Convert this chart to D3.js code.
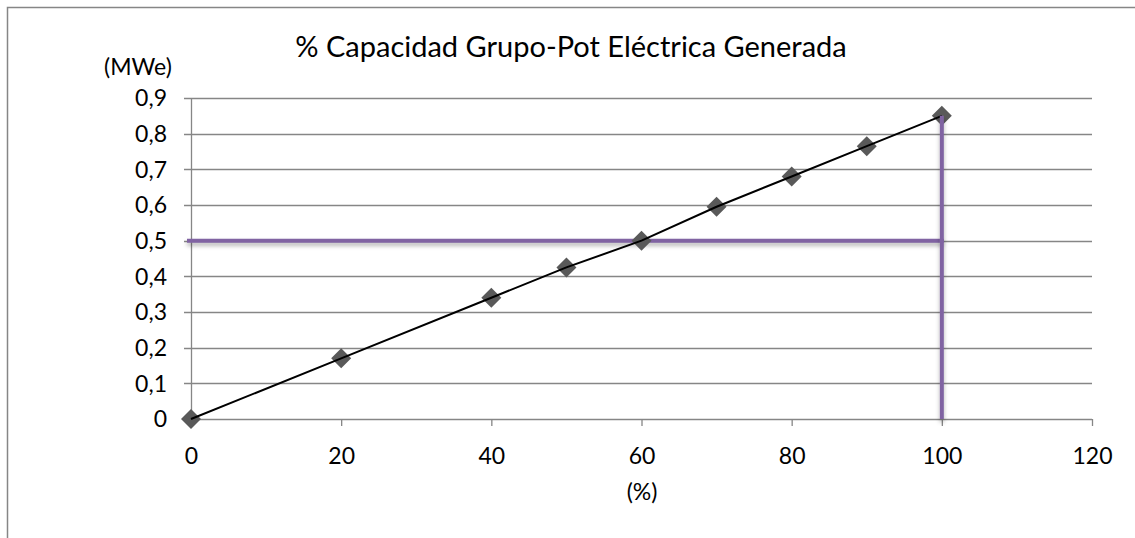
<!DOCTYPE html>
<html>
<head>
<meta charset="utf-8">
<script src="https://cdn.jsdelivr.net/npm/d3@7"></script>
<style>
  body { margin: 0; background: #fff; }
  text { font-family: Lato, "Open Sans", sans-serif; fill: #000; }
</style>
</head>
<body>
<div id="chart"></div>
<script>
// Datos del gráfico
const capacidad = [0, 20, 40, 50, 60, 70, 80, 90, 100];
const potencia = [0, 0.17, 0.34, 0.425, 0.5, 0.595, 0.68, 0.765, 0.85];
const xTicks = [0, 20, 40, 60, 80, 100, 120];
const yTicks = [0, 0.1, 0.2, 0.3, 0.4, 0.5, 0.6, 0.7, 0.8, 0.9];
const refPotencia = 0.5;
const refCapacidad = 100;

const W = 1135, H = 538;
const margin = { top: 98, right: 43, bottom: 119, left: 191 };
const width = W - margin.left - margin.right;
const height = H - margin.top - margin.bottom;

const root = d3.select('#chart').append('svg')
  .attr('width', W)
  .attr('height', H);

// Sombra para las líneas moradas (en coordenadas de usuario: las líneas no tienen alto)
const defs = root.append('defs');
const f = defs.append('filter').attr('id', 'sombra')
  .attr('filterUnits', 'userSpaceOnUse')
  .attr('x', -margin.left).attr('y', -margin.top)
  .attr('width', W).attr('height', H);
f.append('feDropShadow')
  .attr('dx', 0).attr('dy', 3).attr('stdDeviation', 2)
  .attr('flood-color', '#000').attr('flood-opacity', 0.3);

// Marco exterior
root.append('path')
  .attr('d', `M7.5,${H} V7.5 H${W}`)
  .attr('fill', 'none')
  .attr('stroke', '#868686')
  .attr('stroke-width', 1.5);

const svg = root.append('g')
  .attr('transform', `translate(${margin.left},${margin.top})`);

const x = d3.scaleLinear().domain([0, 120]).range([0, width]);
const y = d3.scaleLinear().domain([0, 0.9]).range([height, 0]);

// Líneas de cuadrícula horizontales
svg.append('g')
  .selectAll('line')
  .data(yTicks)
  .enter()
  .append('line')
  .attr('x1', -7)
  .attr('x2', width)
  .attr('y1', d => Math.round(y(d)) + 0.5)
  .attr('y2', d => Math.round(y(d)) + 0.5)
  .attr('stroke', '#868686')
  .attr('stroke-width', 1.3);

// Eje Y
svg.append('line')
  .attr('x1', 0.5).attr('x2', 0.5)
  .attr('y1', 0).attr('y2', height)
  .attr('stroke', '#868686')
  .attr('stroke-width', 1.3);

svg.append('g')
  .selectAll('text')
  .data(yTicks)
  .enter()
  .append('text')
  .attr('x', -24)
  .attr('y', d => y(d))
  .attr('dy', '0.36em')
  .attr('text-anchor', 'end')
  .style('font-size', '23px')
  .text(d => d3.format('.1~f')(d).replace('.', ','));

// Eje X
const xAxis = svg.append('g')
  .attr('transform', `translate(0,${height})`)
  .call(d3.axisBottom(x).tickValues(xTicks).tickSize(7).tickPadding(22).tickFormat(d3.format('d')));
xAxis.select('.domain').remove();
xAxis.selectAll('.tick line').attr('stroke', '#868686').attr('stroke-width', 1.3);
xAxis.selectAll('.tick text').style('font-size', '23px').attr('fill', '#000');

// Línea horizontal de referencia (0,5 MWe)
svg.append('line')
  .attr('x1', -4)
  .attr('x2', x(refCapacidad) + 2)
  .attr('y1', y(refPotencia))
  .attr('y2', y(refPotencia))
  .attr('stroke', '#8064A2')
  .attr('stroke-width', 4)
  .attr('filter', 'url(#sombra)');

// Marcadores
svg.selectAll('.punto')
  .data(capacidad)
  .enter()
  .append('path')
  .attr('class', 'punto')
  .attr('d', d3.symbol().type(d3.symbolSquare).size(200))
  .attr('transform', (d, i) => `translate(${x(d)},${y(potencia[i])}) rotate(45)`)
  .attr('fill', '#595959');

// Línea de la serie
const linea = d3.line()
  .x((d, i) => x(capacidad[i]))
  .y((d, i) => y(potencia[i]));

svg.append('path')
  .datum(capacidad)
  .attr('d', linea)
  .attr('fill', 'none')
  .attr('stroke', '#000')
  .attr('stroke-width', 2);

// Línea vertical de referencia (100 %)
svg.append('line')
  .attr('x1', x(refCapacidad))
  .attr('x2', x(refCapacidad))
  .attr('y1', y(potencia[potencia.length - 1]))
  .attr('y2', height)
  .attr('stroke', '#8064A2')
  .attr('stroke-width', 4)
  .attr('filter', 'url(#sombra)');

// Títulos
root.append('text')
  .attr('x', 571)
  .attr('y', 57)
  .attr('text-anchor', 'middle')
  .style('font-size', '29px')
  .text('% Capacidad Grupo-Pot Eléctrica Generada');

root.append('text')
  .attr('x', 138)
  .attr('y', 75)
  .attr('text-anchor', 'middle')
  .style('font-size', '23px')
  .text('(MWe)');

root.append('text')
  .attr('x', 642)
  .attr('y', 500)
  .attr('text-anchor', 'middle')
  .style('font-size', '23px')
  .text('(%)');
</script>
</body>
</html>
